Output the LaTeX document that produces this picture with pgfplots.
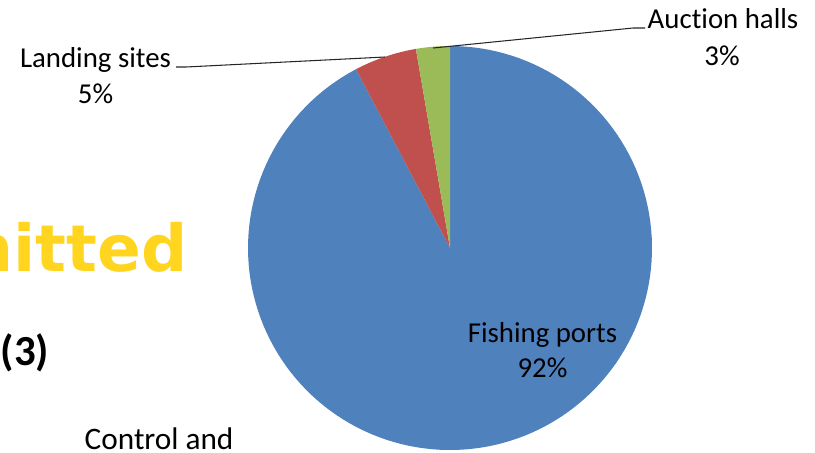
\documentclass[border=0pt]{standalone}
\usepackage{pgfplots}
\pgfplotsset{compat=1.18}
\usepackage{fontspec}
\setmainfont{Carlito}[Ligatures=NoCommon]
\newfontfamily\dejabold{DejaVu Sans}[BoldFont={DejaVu Sans Bold}]
\definecolor{sblue}{HTML}{4F81BD}
\definecolor{sred}{HTML}{C0504D}
\definecolor{sgreen}{HTML}{9BBB59}
\definecolor{sgold}{RGB}{255,213,32}
\begin{document}
\begin{tikzpicture}
\useasboundingbox (0,0) rectangle (8.15cm,4.52cm);
\clip (0,0) rectangle (8.15cm,4.52cm);
\begin{axis}[at={(0,0)}, anchor=south west, scale only axis,
  width=8.15cm, height=4.52cm, xmin=0, xmax=815, ymin=0, ymax=452,
  hide axis, clip=false]
% shares in percent: Fishing ports 92.3, Landing sites 5.0, Auction halls 2.7
\addplot[fill=sblue, draw=none, domain=0:92.3, samples=150]
  ({450+202*sin(3.6*x)},{204+202*cos(3.6*x)}) -- (axis cs:450,204) -- cycle;
\addplot[fill=sred, draw=none, domain=92.3:97.3, samples=20]
  ({450+202*sin(3.6*x)},{204+202*cos(3.6*x)}) -- (axis cs:450,204) -- cycle;
\addplot[fill=sgreen, draw=none, domain=97.3:100, samples=20]
  ({450+202*sin(3.6*x)},{204+202*cos(3.6*x)}) -- (axis cs:450,204) -- cycle;
% leader lines
\addplot[black!85, line width=0.3pt] coordinates {(176,385) (186,385) (385,395)};
\addplot[black!85, line width=0.3pt] coordinates {(645,424) (633,424) (433,404)};
% labels
\node[anchor=base, inner sep=0pt, font=\fontsize{8.2}{10}\selectfont] at (axis cs:542.5,110) {Fishing ports};
\node[anchor=base, inner sep=0pt, font=\fontsize{8.2}{10}\selectfont] at (axis cs:542.5,75) {92\%};
\node[anchor=base, inner sep=0pt, font=\fontsize{8.2}{10}\selectfont] at (axis cs:95.5,385) {Landing sites};
\node[anchor=base, inner sep=0pt, font=\fontsize{8.2}{10}\selectfont] at (axis cs:95.5,349) {5\%};
\node[anchor=base, inner sep=0pt, font=\fontsize{8.2}{10}\selectfont] at (axis cs:723,424) {Auction halls};
\node[anchor=base, inner sep=0pt, font=\fontsize{8.2}{10}\selectfont] at (axis cs:722,387) {3\%};
% slide background text
\node[anchor=base east, inner sep=0pt, text=sgold, font=\dejabold\bfseries\fontsize{18.4}{20}\selectfont] at (axis cs:188,181) {nitted};
\node[anchor=base west, inner sep=0pt, font=\bfseries\fontsize{12.2}{14}\selectfont] at (axis cs:0,87) {(3)};
\node[anchor=base west, inner sep=0pt, font=\fontsize{8.9}{10}\selectfont] at (axis cs:84,3) {Control and};
\end{axis}
\end{tikzpicture}
\end{document}
